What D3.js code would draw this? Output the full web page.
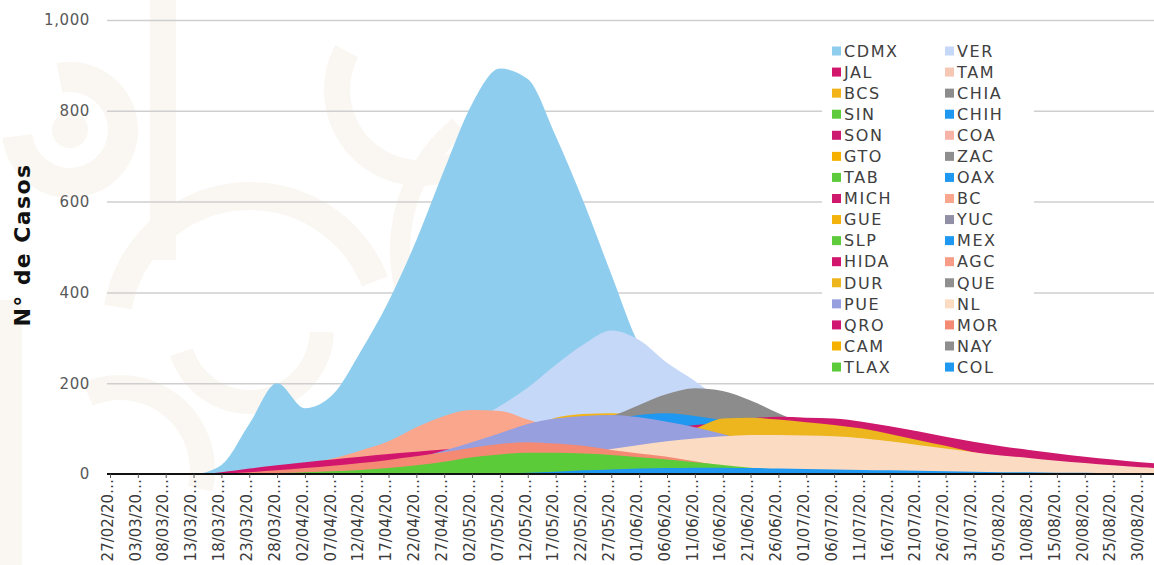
<!DOCTYPE html>
<html>
<head>
<meta charset="utf-8">
<script src="https://cdn.jsdelivr.net/npm/d3@7"></script>
<style>
  html, body { margin: 0; padding: 0; background: #fff; }
  svg { display: block; }
  svg text { font-family: "DejaVu Sans", sans-serif; }
</style>
</head>
<body>
<svg id="chart" width="1154" height="565"></svg>
<script>
// sample dates, every 5 days (the last one lies past the visible edge)
const DATES = [
  '27/02/2020', '03/03/2020', '08/03/2020', '13/03/2020', '18/03/2020', '23/03/2020',
  '28/03/2020', '02/04/2020', '07/04/2020', '12/04/2020', '17/04/2020', '22/04/2020',
  '27/04/2020', '02/05/2020', '07/05/2020', '12/05/2020', '17/05/2020', '22/05/2020',
  '27/05/2020', '01/06/2020', '06/06/2020', '11/06/2020', '16/06/2020', '21/06/2020',
  '26/06/2020', '01/07/2020', '06/07/2020', '11/07/2020', '16/07/2020', '21/07/2020',
  '26/07/2020', '31/07/2020', '05/08/2020', '10/08/2020', '15/08/2020', '20/08/2020',
  '25/08/2020', '30/08/2020', '04/09/2020'
];
const TICK_COUNT = 38;
const Y_TICKS = [0, 200, 400, 600, 800, 1000];

// cases per state at the dates above
const CDMX = [0, 0, 0, 0, 20, 110, 200, 145, 175, 270, 380, 515, 670, 815, 893, 870, 745, 600, 440, 285, 210, 150, 105, 80, 60, 45, 35, 28, 22, 18, 15, 12, 10, 8, 7, 6, 5, 4, 4];
const VER = [0, 0, 0, 0, 1, 2, 4, 7, 12, 20, 32, 50, 80, 115, 150, 190, 240, 285, 316, 295, 245, 205, 160, 110, 75, 50, 35, 25, 18, 12, 9, 7, 5, 4, 3, 2, 2, 1, 1];
const BCS = [0, 0, 0, 0, 0, 0, 0, 0, 3, 8, 16, 28, 42, 60, 80, 100, 124, 132, 134, 128, 110, 95, 80, 65, 50, 40, 30, 22, 16, 12, 9, 6, 4, 3, 2, 1, 0, 0, 0];
const CHIA = [0, 0, 0, 0, 0, 0, 0, 0, 2, 5, 10, 18, 28, 40, 55, 70, 88, 110, 127, 152, 176, 189, 183, 162, 134, 108, 85, 65, 50, 38, 28, 20, 15, 11, 8, 6, 4, 3, 2];
const CHIH = [0, 0, 0, 0, 0, 0, 0, 0, 2, 4, 8, 14, 22, 32, 45, 60, 80, 100, 118, 130, 134, 128, 118, 100, 80, 60, 42, 28, 18, 10, 6, 3, 2, 1, 0, 0, 0, 0, 0];
const MICH = [0, 0, 0, 0, 0, 0, 0, 0, 1, 3, 6, 10, 15, 22, 30, 38, 48, 60, 75, 90, 100, 108, 112, 122, 126, 124, 122, 115, 105, 94, 82, 71, 61, 53, 45, 38, 32, 26, 22];
const BC = [0, 0, 0, 0, 0, 5, 12, 22, 34, 52, 72, 103, 128, 141, 139, 120, 100, 85, 70, 58, 48, 40, 34, 28, 23, 19, 16, 13, 11, 9, 7, 6, 5, 4, 3, 3, 2, 2, 2];
const HIDA = [0, 0, 0, 0, 4, 12, 19, 26, 32, 38, 44, 49, 54, 58, 58, 55, 52, 48, 45, 42, 39, 36, 33, 30, 27, 24, 21, 19, 17, 15, 13, 11, 10, 9, 8, 7, 6, 5, 5];
const DUR = [0, 0, 0, 0, 0, 0, 0, 0, 0, 0, 3, 6, 10, 15, 22, 30, 40, 50, 60, 70, 85, 100, 122, 124, 120, 114, 108, 100, 88, 75, 62, 48, 36, 27, 20, 14, 10, 7, 5];
const PUE = [0, 0, 0, 0, 0, 0, 0, 0, 0, 12, 22, 35, 52, 70, 90, 110, 122, 128, 130, 125, 115, 103, 88, 72, 58, 46, 36, 28, 22, 17, 13, 10, 8, 6, 5, 4, 3, 2, 2];
const NL = [0, 0, 0, 0, 0, 0, 0, 0, 0, 1, 2, 3, 5, 8, 13, 20, 30, 42, 55, 64, 72, 78, 83, 86, 86, 85, 83, 79, 72, 64, 56, 48, 41, 35, 29, 24, 19, 15, 12];
const MOR = [0, 0, 0, 0, 1, 4, 8, 13, 18, 24, 31, 39, 48, 58, 66, 70, 67, 62, 53, 45, 38, 28, 17, 11, 7, 4, 3, 2, 1, 0, 0, 0, 0, 0, 0, 0, 0, 0, 0];
const TLAX = [0, 0, 0, 0, 0, 1, 2, 4, 6, 9, 13, 19, 27, 37, 43, 47, 47, 45, 42, 37, 32, 26, 20, 14, 10, 7, 5, 3, 2, 1, 1, 0, 0, 0, 0, 0, 0, 0, 0];
const COL = [0, 0, 0, 0, 0, 0, 0, 0, 0, 0, 0, 0, 0, 0, 1, 3, 5, 8, 10, 12, 13, 14, 14, 13, 12, 11, 10, 9, 8, 7, 6, 5, 4, 4, 3, 3, 2, 2, 2];

// legend / draw order (later ones are drawn on top); states whose area is fully hidden have no values
const SERIES = [
  { name: 'CDMX', color: '#8ecdee', values: CDMX },
  { name: 'VER', color: '#c6d8f8', values: VER },
  { name: 'JAL', color: '#d1166b', values: null },
  { name: 'TAM', color: '#f6c8b4', values: null },
  { name: 'BCS', color: '#f2b418', values: BCS },
  { name: 'CHIA', color: '#8c8c8c', values: CHIA },
  { name: 'SIN', color: '#5dcb3b', values: null },
  { name: 'CHIH', color: '#1e98f0', values: CHIH },
  { name: 'SON', color: '#cc1a70', values: null },
  { name: 'COA', color: '#f6b3a6', values: null },
  { name: 'GTO', color: '#f6b000', values: null },
  { name: 'ZAC', color: '#8e8e8e', values: null },
  { name: 'TAB', color: '#5dcb3b', values: null },
  { name: 'OAX', color: '#1e98f0', values: null },
  { name: 'MICH', color: '#ce196c', values: MICH },
  { name: 'BC', color: '#f9a68c', values: BC },
  { name: 'GUE', color: '#f4b20c', values: null },
  { name: 'YUC', color: '#908fa6', values: null },
  { name: 'SLP', color: '#5dcb3b', values: null },
  { name: 'MEX', color: '#1e98f0', values: null },
  { name: 'HIDA', color: '#d2166e', values: HIDA },
  { name: 'AGC', color: '#f79c86', values: null },
  { name: 'DUR', color: '#edb51e', values: DUR },
  { name: 'QUE', color: '#8f8f8f', values: null },
  { name: 'PUE', color: '#979fde', values: PUE },
  { name: 'NL', color: '#fbdcc3', values: NL },
  { name: 'QRO', color: '#cf1670', values: null },
  { name: 'MOR', color: '#f58a74', values: MOR },
  { name: 'CAM', color: '#f5b000', values: null },
  { name: 'NAY', color: '#8e8e8e', values: null },
  { name: 'TLAX', color: '#5ccb3a', values: TLAX },
  { name: 'COL', color: '#1e98f0', values: COL }
];

const width = 1154, height = 565;
const parse = d3.utcParse('%d/%m/%Y');
const fmt = d3.utcFormat('%d/%m/%Y');
const dates = DATES.map(parse);

const svg = d3.select('#chart');

const x = d3.scaleUtc()
  .domain([dates[0], dates[dates.length - 1]])
  .range([110, 110 + 27.85 * (dates.length - 1)]);
const y = d3.scaleLinear().domain([0, 1000]).range([474, 20]);

// very faint decorative background on the left
const deco = svg.append('g').attr('fill', '#faf7f2');
const ring = d3.arc();
[
  [70, 130, 38, 68, -0.2, 4.6],
  [70, 130, 0, 18, 0, 6.3],
  [250, 330, 120, 148, -1.4, 1.2],
  [250, 330, 60, 84, 1.6, 4.4],
  [420, 90, 70, 96, 2.0, 5.2],
  [120, 470, 70, 95, -0.4, 1.8],
  [560, 250, 150, 170, 3.6, 5.6]
].forEach(([cx, cy, r0, r1, a0, a1]) => {
  deco.append('path')
    .attr('transform', `translate(${cx},${cy})`)
    .attr('d', ring({ innerRadius: r0, outerRadius: r1, startAngle: a0, endAngle: a1 }));
});
deco.append('rect').attr('x', 150).attr('y', 0).attr('width', 26).attr('height', 260);
deco.append('rect').attr('x', 0).attr('y', 300).attr('width', 22).attr('height', 265);

// gridlines + y labels
const yAxis = svg.append('g')
  .attr('transform', 'translate(107,0)')
  .call(d3.axisLeft(y).tickValues(Y_TICKS).tickSize(-(width - 107)).tickFormat(d3.format(',')));
yAxis.attr('font-family', null);
yAxis.select('.domain').remove();
yAxis.selectAll('line').attr('stroke', '#cfcfcf').attr('stroke-width', 1.5)
  .filter(d => d === 0).remove();
yAxis.selectAll('text')
  .attr('x', -17)
  .attr('fill', '#595959')
  .style('font-size', '15px')
  .style('letter-spacing', '0.6px');

// overlapping areas
const area = d3.area()
  .x((d, i) => x(dates[i]))
  .y0(y(0))
  .y1(d => y(d))
  .curve(d3.curveMonotoneX);

svg.append('g')
  .selectAll('path')
  .data(SERIES.filter(s => s.values))
  .join('path')
  .attr('fill', d => d.color)
  .attr('d', d => area(d.values));

// x axis
svg.append('line')
  .attr('x1', 107).attr('x2', width)
  .attr('y1', y(0)).attr('y2', y(0))
  .attr('stroke', '#111').attr('stroke-width', 1.8);

const maxLabel = 83;
const xAxis = svg.append('g')
  .attr('transform', `translate(0,${y(0)})`)
  .call(d3.axisBottom(x).tickValues(dates.slice(0, TICK_COUNT)).tickSize(4).tickFormat(fmt));
xAxis.attr('font-family', null);
xAxis.select('.domain').remove();
xAxis.selectAll('line').attr('stroke', '#555');
xAxis.selectAll('text')
  .attr('transform', 'rotate(-90)')
  .attr('x', -5)
  .attr('y', -3)
  .attr('dy', '0.35em')
  .attr('fill', '#3a3a3a')
  .style('text-anchor', 'end')
  .style('font-size', '15px')
  .each(function () {
    const t = d3.select(this);
    let s = t.text();
    if (this.getComputedTextLength() <= maxLabel) return;
    while (s.length > 1) {
      s = s.slice(0, -1);
      t.text(s + '…');
      if (this.getComputedTextLength() <= maxLabel) break;
    }
  });

// legend
const legend = svg.append('g');
legend.append('rect')
  .attr('x', 822).attr('y', 38).attr('width', 212).attr('height', 340)
  .attr('fill', '#fff');
const item = legend.selectAll('g.item')
  .data(SERIES)
  .join('g')
  .attr('class', 'item')
  .attr('transform', (d, i) => `translate(${i % 2 ? 945 : 832},${51 + Math.floor(i / 2) * 21.07})`);
item.append('rect')
  .attr('x', 0).attr('y', -4.5).attr('width', 9).attr('height', 9)
  .attr('fill', d => d.color);
item.append('text')
  .attr('x', 12)
  .attr('dy', '0.36em')
  .attr('fill', '#404040')
  .style('font-size', '16px')
  .style('letter-spacing', '1.6px')
  .text(d => d.name);

// y title
svg.append('text')
  .attr('transform', 'translate(22,245) rotate(-90)')
  .attr('dy', '0.35em')
  .style('text-anchor', 'middle')
  .style('font-size', '22px')
  .style('font-weight', 'bold')
  .style('letter-spacing', '1.4px')
  .attr('fill', '#111')
  .text('N° de Casos');
</script>
</body>
</html>
